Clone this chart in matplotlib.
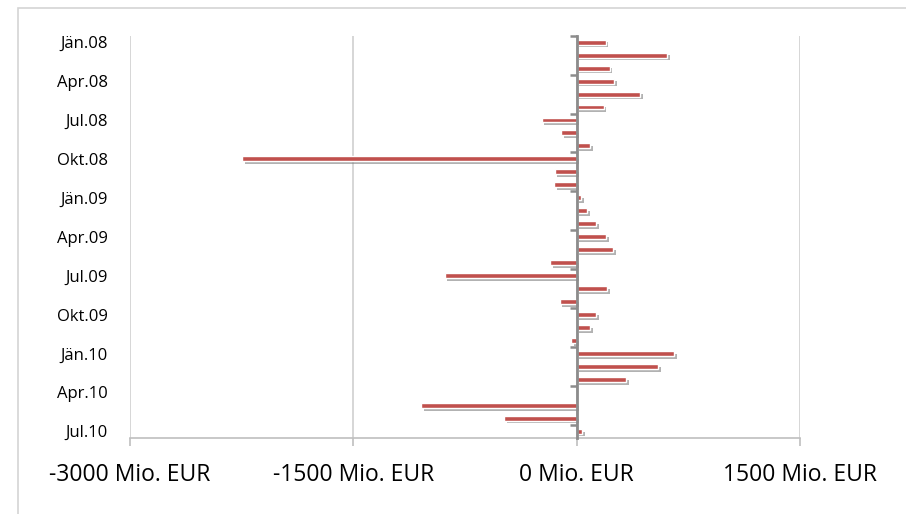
import matplotlib
matplotlib.use("Agg")
from matplotlib import pyplot as plt
from matplotlib import patheffects as pe
from matplotlib.patches import Rectangle

# monthly net flows, Jän.08 .. Jul.10 (Mio. EUR)
month_names = ["Jän", "Feb", "Mär", "Apr", "Mai", "Jun",
               "Jul", "Aug", "Sep", "Okt", "Nov", "Dez"]
years = ["08", "09", "10"]
months = [f"{m}.{y}" for y in years for m in month_names][:31]
values = [195, 610, 222, 253, 427, 181, -235, -104, 89, -2245,
          -148, -150, 31, 71, 130, 197, 244, -177, -887, 206,
          -114, 130, 91, -38, 656, 546, 331, 0, -1047, -486, 34]
x_ticks = [-3000, -1500, 0, 1500]
x_min, x_max = -3000, 1500

plt.rcParams["font.family"] = ["Open Sans", "DejaVu Sans"]

fig = plt.figure(figsize=(9.06, 5.14), dpi=100)
# chart frame
fig.patches.append(Rectangle((18 / 906, -0.2), 1.2, 1.2 - 8 / 514,
                             transform=fig.transFigure, fill=False,
                             edgecolor="#d4d4d4", linewidth=1.2))
ax = fig.add_axes([130 / 906, 1 - 437.7 / 514, 670 / 906, 402 / 514])

pos = list(range(len(values)))
bars = ax.barh(pos, values, height=0.38, color="#c0504d",
               edgecolor="white", linewidth=1.0, zorder=3)
for b in bars:
    b.set_path_effects([pe.SimplePatchShadow(offset=(2, -2),
                                             shadow_rgbFace="#808080", alpha=0.6),
                        pe.Normal()])

ax.set_xlim(x_min, x_max)
ax.set_ylim(len(values) - 0.5, -0.5)

ax.set_xticks(x_ticks, [f"{v} Mio. EUR" for v in x_ticks])
ax.grid(axis="x", color="#d0d0d0", linewidth=1.2, zorder=0)
ax.tick_params(axis="x", length=6, width=1.2, color="#bfbfbf", pad=12,
               labelsize=16.5)

label_pos = pos[::3]
ax.set_yticks(label_pos, [months[i] for i in label_pos])
ax.tick_params(axis="y", length=0, pad=16, labelsize=12)

for side in ["top", "right", "left"]:
    ax.spines[side].set_visible(False)
ax.spines["bottom"].set_color("#bfbfbf")
ax.spines["bottom"].set_linewidth(1.2)

# category axis crossing at zero, tick marks every quarter
zero_at = (0 - x_min) / (x_max - x_min)
sec = ax.secondary_yaxis(zero_at)
sec.set_alignment("left")
sec.set_yticks([p - 0.5 for p in label_pos], [""] * len(label_pos))
sec.tick_params(axis="y", length=5, width=1.8, color="#8c8c8c", direction="out")
sec.spines["left"].set_color("#8c8c8c")
sec.spines["left"].set_linewidth(2)
sec.set_zorder(4)

plt.savefig("out.png", dpi=100)
